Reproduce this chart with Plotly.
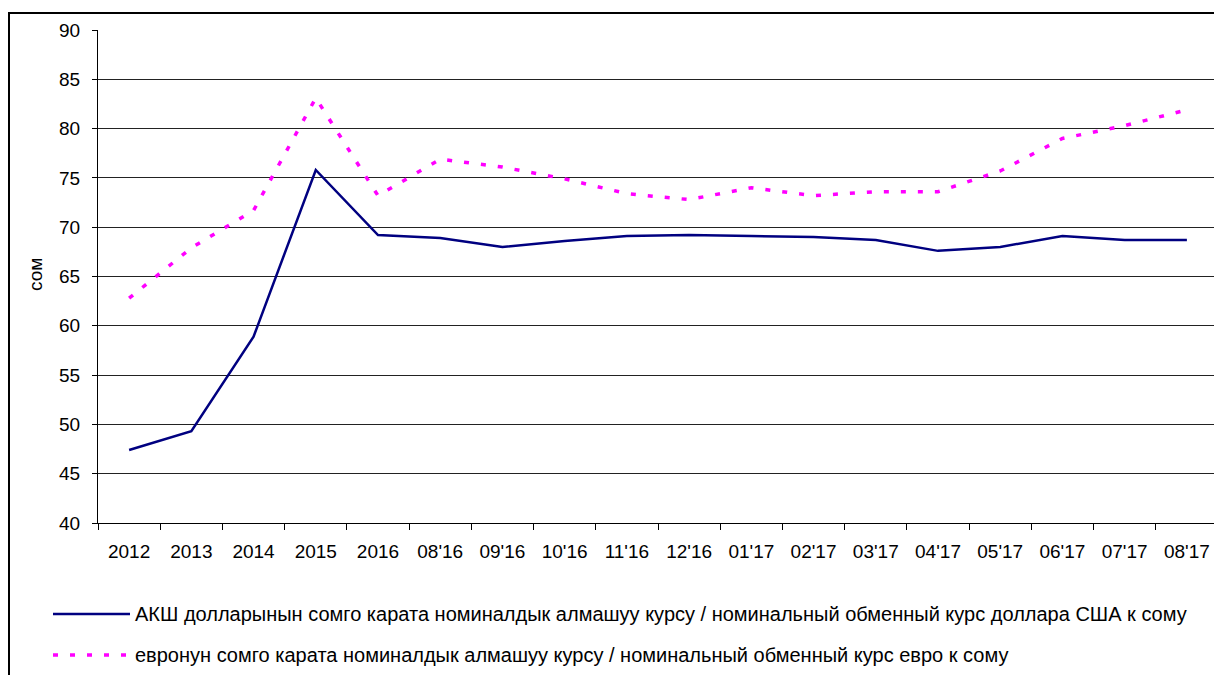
import plotly.graph_objects as go

categories = ["2012", "2013", "2014", "2015", "2016", "08'16", "09'16", "10'16", "11'16",
              "12'16", "01'17", "02'17", "03'17", "04'17", "05'17", "06'17", "07'17", "08'17"]
usd = [47.4, 49.3, 58.9, 75.8, 69.2, 68.9, 68.0, 68.6, 69.1,
       69.2, 69.1, 69.0, 68.7, 67.6, 68.0, 69.1, 68.7, 68.7]
eur = [62.8, 67.9, 71.7, 83.1, 73.2, 76.9, 76.1, 74.9, 73.4,
       72.8, 74.0, 73.2, 73.6, 73.6, 75.7, 79.0, 80.3, 81.9]
usd_name = "АКШ долларынын сомго карата номиналдык алмашуу курсу / номинальный обменный курс доллара США к сому"
eur_name = "евронун сомго карата номиналдык алмашуу курсу / номинальный обменный курс евро к сому"
y_title = "сом"

OFF = 8  # page body margin offset
W, H = 1222 - OFF, 675 - OFF
L, T = 98 - OFF, 30 - OFF
R = W - (1218 - OFF)
B = H - (523 - OFF)
pw, ph = W - L - R, H - T - B

def px(x):
    return (x - OFF - L) / pw

def py(y):
    return (T + ph - (y - OFF)) / ph

USD_COLOR = "#000080"
EUR_COLOR = "#FF00FF"
EUR_DASH = "5px,12px"

fig = go.Figure()
fig.add_trace(go.Scatter(x=categories, y=usd, mode="lines", name=usd_name,
                         line=dict(color=USD_COLOR, width=2.5), showlegend=False))
fig.add_trace(go.Scatter(x=categories, y=eur, mode="lines", name=eur_name,
                         line=dict(color=EUR_COLOR, width=3.5, dash=EUR_DASH), showlegend=False))

font = "Liberation Sans, Arial, sans-serif"
legend_items = [(usd_name, USD_COLOR, 2.5, "solid", 614), (eur_name, EUR_COLOR, 3.5, EUR_DASH, 655)]
shapes = [
    dict(type="rect", xref="paper", yref="paper",
         x0=px(9), x1=px(1222 + 10), y0=py(675 + 10), y1=py(13),
         line=dict(color="black", width=2), fillcolor="rgba(0,0,0,0)", layer="below"),
]
annotations = [
    dict(text=y_title, xref="paper", yref="paper", x=px(35), y=py(275),
         textangle=-90, showarrow=False, font=dict(size=19), xanchor="center", yanchor="middle"),
]
for name, color, width, dash, ypix in legend_items:
    shapes.append(dict(type="line", xref="paper", yref="paper", x0=px(53), x1=px(130),
                       y0=py(ypix), y1=py(ypix), line=dict(color=color, width=width, dash=dash)))
    annotations.append(dict(text=name, xref="paper", yref="paper", x=px(133), y=py(ypix),
                            xanchor="left", yanchor="middle", showarrow=False,
                            font=dict(size=20)))

fig.update_layout(
    width=W, height=H,
    margin=dict(l=L, r=R, t=T, b=B, autoexpand=False),
    paper_bgcolor="white", plot_bgcolor="white",
    font=dict(family=font, size=19, color="black"),
    showlegend=False,
    xaxis=dict(type="category", showgrid=False, showline=True, linecolor="black", linewidth=1,
               ticks="outside", ticklen=6, tickcolor="black", tickson="boundaries",
               tickfont=dict(size=19), ticklabelstandoff=11, range=[-0.5, 17.5]),
    yaxis=dict(range=[40, 90], dtick=5, showgrid=True, gridcolor="#222222", gridwidth=1,
               showline=True, linecolor="black", linewidth=1, ticks="outside", ticklen=5,
               tickcolor="black", tickfont=dict(size=19), zeroline=False, ticklabelstandoff=8),
    shapes=shapes,
    annotations=annotations,
)
fig.write_html("out.html")
